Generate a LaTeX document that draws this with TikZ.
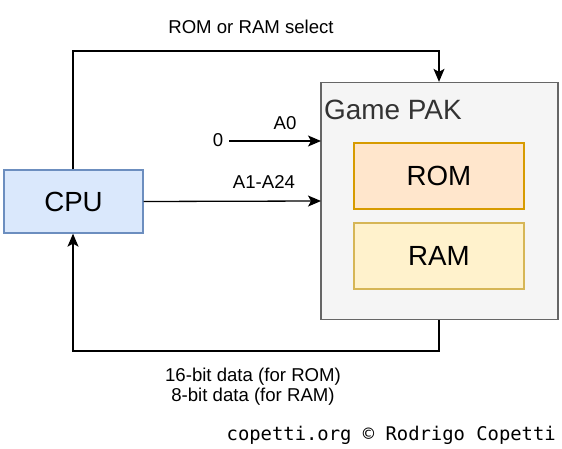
\documentclass[tikz,border=0pt]{standalone}
\usepackage{fontspec}
\setmainfont{Liberation Sans}
\newfontfamily\monof{DejaVu Sans Mono}
\usetikzlibrary{arrows.meta}
\definecolor{cpufill}{HTML}{DAE8FC}
\definecolor{cpudraw}{HTML}{6C8EBF}
\definecolor{pakfill}{HTML}{F5F5F5}
\definecolor{pakdraw}{HTML}{666666}
\definecolor{paktext}{HTML}{333333}
\definecolor{romfill}{HTML}{FFE6CC}
\definecolor{romdraw}{HTML}{D79B00}
\definecolor{ramfill}{HTML}{FFF2CC}
\definecolor{ramdraw}{HTML}{D6B656}
\tikzset{
  box/.style={draw, line width=1.3pt, inner sep=0pt, font=\fontsize{27.7}{32}\selectfont},
  lbl/.style={font=\fontsize{18.6}{22}\selectfont, inner sep=0pt, align=center},
  conn/.style={line width=1.3pt, -{Stealth[length=13pt,width=11pt,inset=3pt]}},
}
\begin{document}
\begin{tikzpicture}[x=1pt,y=-1pt]
\useasboundingbox (0,0) rectangle (562,449);
\node[box, fill=cpufill, draw=cpudraw, minimum width=139pt, minimum height=63pt] (cpu) at (73.5,201.5) {CPU};
\node[box, fill=pakfill, draw=pakdraw, minimum width=237pt, minimum height=237pt] (pak) at (439.5,201) {};
\node[font=\fontsize{27.9}{32}\selectfont, text=paktext, inner sep=0pt, anchor=west] (paklbl) at (324,110) {Game PAK};
\node[box, fill=romfill, draw=romdraw, minimum width=170pt, minimum height=66pt] (rom) at (439,176) {ROM};
\node[box, fill=ramfill, draw=ramdraw, minimum width=170pt, minimum height=66pt] (ram) at (439,256) {RAM};
\coordinate (tl) at (73,51);
\coordinate (tr) at (439,51);
\coordinate (bl) at (73,351);
\coordinate (br) at (439,351);
\coordinate (a0s) at (229,141);
\coordinate (a0e) at (321,141);
\coordinate (a1e) at (321,201);
\draw[conn] (cpu.north -| tl) -- (tl) -- (tr) -- (tr |- pak.north);
\draw[conn] (pak.south -| br) -- (br) -- (bl) -- (bl |- cpu.south);
\draw[conn] (a0s) -- (a0e);
\draw[conn] (cpu.east) -- (a1e);
\node[lbl] (sel) at (251,27) {ROM or RAM select};
\node[lbl] (zero) at (218,140) {0};
\node[lbl] (a0) at (285,123) {A0};
\node[lbl] (a1) at (264,182) {A1-A24};
\node[lbl, font=\fontsize{18.6}{20}\selectfont] (data) at (253,387) {16-bit data (for ROM)\\8-bit data (for RAM)};
\node[inner sep=0pt, anchor=east, font=\monof\fontsize{18.85}{22}\selectfont] (copy) at (556,435) {copetti.org © Rodrigo Copetti};
\end{tikzpicture}
\end{document}
